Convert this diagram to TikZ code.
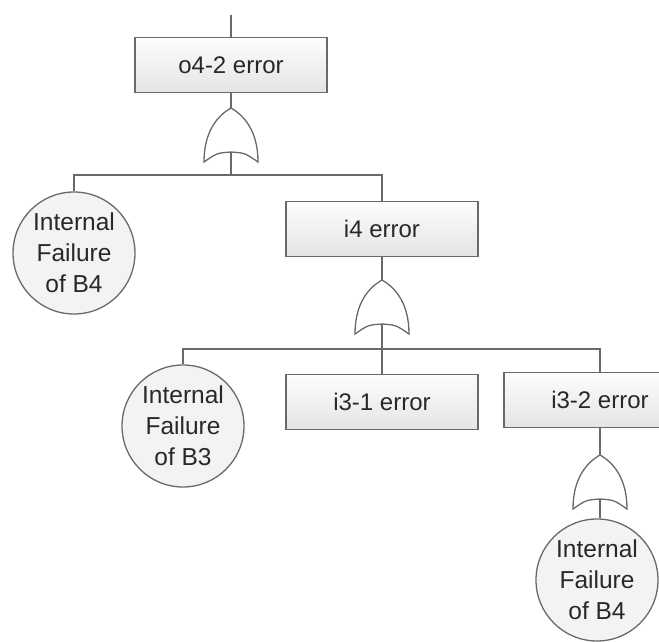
\documentclass[tikz,border=0pt]{standalone}
\usepackage{fontspec}
\setmainfont{Liberation Sans}
\usetikzlibrary{positioning}
\definecolor{linegray}{RGB}{105,105,105}
\definecolor{boxtop}{RGB}{253,253,253}
\definecolor{boxbot}{RGB}{228,228,228}
\definecolor{evfill}{RGB}{243,243,245}
\definecolor{txtgray}{RGB}{40,40,40}

\begin{document}
\begin{tikzpicture}[x=1pt, y=-1pt,
  wire/.style={draw=linegray, line width=1.3pt},
  eventbox/.style={draw=linegray, line width=1.3pt, top color=boxtop, bottom color=boxbot,
    minimum width=192pt, minimum height=55pt, inner sep=0pt, text=txtgray,
    font=\fontsize{24}{30}\selectfont},
  basicev/.style={circle, draw=linegray, line width=1.3pt, fill=evfill, minimum size=122pt,
    inner sep=0pt, align=center, text=txtgray, font=\fontsize{24.5}{31}\selectfont},
  orgate/.pic={
    \draw[wire, fill=white] (0,0) .. controls (-14,8) and (-27,24) .. (-27,54)
      .. controls (-14,45) .. (0,44) .. controls (14,45) .. (27,54)
      .. controls (27,24) and (14,8) .. (0,0) -- cycle;
    \coordinate (-top) at (0,0);
    \coordinate (-bot) at (0,44);
  }]
  \clip (0,0) rectangle (659,642);

  % top event
  \coordinate (topend) at (231,15);
  \node[eventbox] (o42) at (231,65) {o4-2 error};
  \draw[wire] (topend) -- (o42.north);
  \pic (g1) at (231,108) {orgate};
  \draw[wire] (o42.south) -- (g1-top);
  \coordinate (bar1) at (231,175);
  \draw[wire] (g1-bot) -- (bar1);

  % first level
  \node[basicev] (fb4a) at (74,253) {Internal\\Failure\\of B4};
  \node[eventbox] (i4) at (382,229) {i4 error};
  \draw[wire] (bar1) -| (fb4a.north);
  \draw[wire] (bar1) -| (i4.north);
  \pic (g2) at (382,280) {orgate};
  \draw[wire] (i4.south) -- (g2-top);
  \coordinate (bar2) at (382,349);
  \draw[wire] (g2-bot) -- (bar2);

  % second level
  \node[basicev] (fb3) at (183,426) {Internal\\Failure\\of B3};
  \node[eventbox] (i31) at (382,402) {i3-1 error};
  \node[eventbox] (i32) at (600,400) {i3-2 error};
  \draw[wire] (bar2) -| (fb3.north);
  \draw[wire] (bar2) -- (i31.north);
  \draw[wire] (bar2) -| (i32.north);

  % below i3-2
  \pic (g3) at (600,455) {orgate};
  \draw[wire] (i32.south) -- (g3-top);
  \node[basicev] (fb4b) at (597,580) {Internal\\Failure\\of B4};
  \draw[wire] (g3-bot) -- (g3-bot |- fb4b.north);
\end{tikzpicture}
\end{document}
